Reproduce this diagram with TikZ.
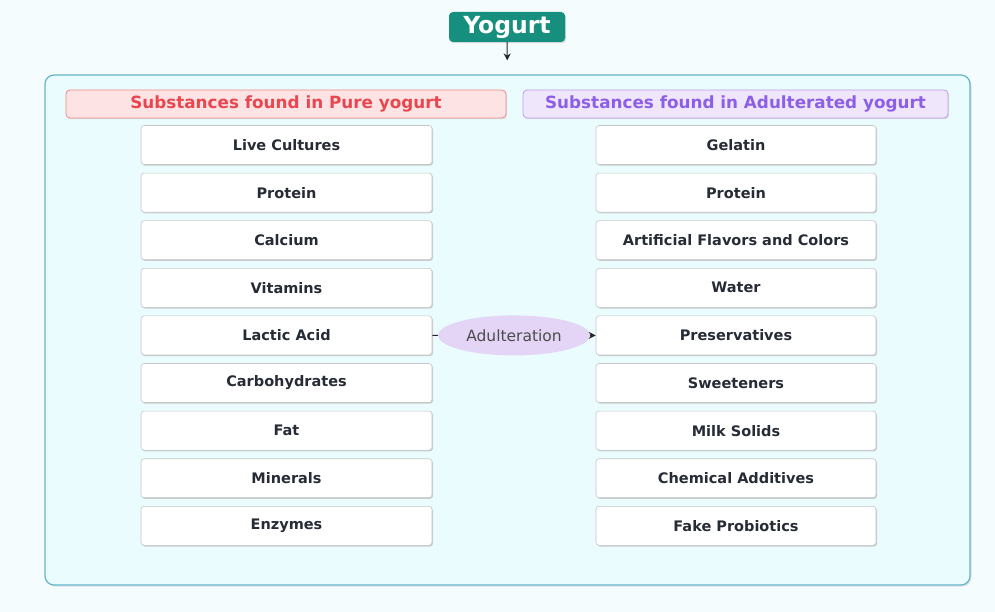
\documentclass[tikz,border=0pt]{standalone}
\usepackage{fontspec}
\setmainfont{DejaVu Sans}
\usetikzlibrary{shapes.geometric,shadows,arrows.meta}
\definecolor{teal1}{HTML}{178F7E}
\definecolor{frameline}{HTML}{62B6C9}
\definecolor{framefill}{HTML}{EAFCFE}
\definecolor{pinkfill}{HTML}{FDE3E4}
\definecolor{pinkline}{HTML}{EC8A8C}
\definecolor{pinktext}{HTML}{E9474F}
\definecolor{lilfill}{HTML}{F0E6FC}
\definecolor{lilline}{HTML}{BC9DEB}
\definecolor{liltext}{HTML}{8C5FE6}
\definecolor{ovalfill}{HTML}{E4D5F6}
\definecolor{itemtext}{HTML}{262B36}
\tikzset{
  x=1pt, y=-1pt,
  itembox/.style={draw=gray!45, fill=white, rounded corners=3pt, line width=0.6pt,
    minimum height=39pt, inner sep=0pt, font=\bfseries\fontsize{14.5}{16}\selectfont,
    text=itemtext, drop shadow={shadow xshift=1pt, shadow yshift=-1.2pt, fill=gray!55, opacity=0.7}},
  leftitem/.style={itembox, minimum width=291pt},
  rightitem/.style={itembox, minimum width=280pt},
  header/.style={rounded corners=4pt, line width=0.8pt, minimum height=28pt, inner sep=0pt,
    font=\bfseries\fontsize{16.8}{18}\selectfont,
    drop shadow={shadow xshift=1pt, shadow yshift=-1.2pt, fill=gray!40, opacity=0.6}},
  conn/.style={line width=1pt, draw=black!85},
  arrowtip/.style={-{Stealth[length=7pt,width=7pt]}},
}
\begin{document}
\begin{tikzpicture}
% canvas
\fill[white!96!cyan] (0,0) rectangle (995,612);
\useasboundingbox (0,0) rectangle (995,612);

% title
\node[fill=teal1, rounded corners=4pt, minimum width=116pt, minimum height=30pt, inner sep=0pt,
  text=white, font=\bfseries\fontsize{23.5}{26}\selectfont,
  drop shadow={shadow xshift=1pt, shadow yshift=-1.2pt, fill=gray!50, opacity=0.6}]
  (title) at (507,27) {Yogurt};

% container frame
\node[draw=frameline, fill=framefill, rounded corners=9pt, line width=1.2pt,
  minimum width=925pt, minimum height=510pt, inner sep=0pt,
  drop shadow={shadow xshift=1.5pt, shadow yshift=-1.5pt, fill=gray!35, opacity=0.6}]
  (frame) at (507.5,330) {};
\draw[conn, arrowtip, shorten >=14pt] (title.south) -- (frame.north);

% column headers
\node[header, draw=pinkline, fill=pinkfill, text=pinktext, minimum width=440pt]
  (hpure) at (286,104) {Substances found in Pure yogurt};
\node[header, draw=lilline, fill=lilfill, text=liltext, minimum width=425pt]
  (hadul) at (735.5,104) {Substances found in Adulterated yogurt};

% pure yogurt items
\foreach \t [count=\i] in {Live Cultures,Protein,Calcium,Vitamins,Lactic Acid,Carbohydrates,Fat,Minerals,Enzymes}
  \node[leftitem] (p\i) at (286.5,{145+(\i-1)*47.6}) {\t};

% adulterated yogurt items
\foreach \t [count=\i] in {Gelatin,Protein,Artificial Flavors and Colors,Water,Preservatives,Sweeteners,Milk Solids,Chemical Additives,Fake Probiotics}
  \node[rightitem] (a\i) at (736,{145+(\i-1)*47.6}) {\t};

% adulteration link
\node[ellipse, fill=ovalfill, minimum width=152pt, minimum height=40pt, inner sep=0pt,
  text=black!70, font=\fontsize{15.5}{17}\selectfont] (adu) at (514,335.4) {Adulteration};
\draw[conn] (p5.east) -- (adu.west);
\draw[conn, arrowtip] (adu.east) -- (a5.west);
\end{tikzpicture}
\end{document}
